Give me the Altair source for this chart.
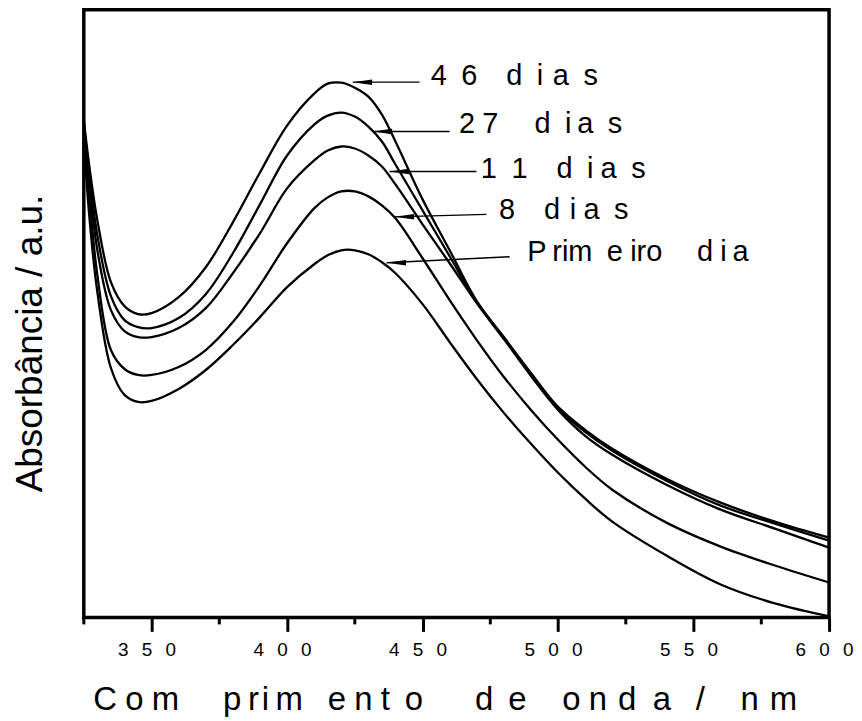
import altair as alt
import pandas as pd

# ---- data (wavelength in nm, absorbance in a.u.) ----
wavelength = [325, 327, 330, 335, 340, 345, 350, 360, 370, 380, 390, 400, 410, 415,
              420, 425, 430, 435, 440, 450, 460, 470, 480, 490, 500, 510, 520, 540,
              560, 580, 600]

abs_46 = [0.996, 0.906, 0.796, 0.672, 0.624, 0.608, 0.610, 0.642, 0.702, 0.792, 0.892,
          0.986, 1.050, 1.070, 1.072, 1.062, 1.044, 1.008, 0.954, 0.838, 0.736, 0.634,
          0.562, 0.490, 0.422, 0.376, 0.338, 0.278, 0.230, 0.192, 0.160]
abs_27 = [0.992, 0.892, 0.766, 0.644, 0.596, 0.582, 0.580, 0.600, 0.648, 0.730, 0.828,
          0.926, 0.988, 1.006, 1.012, 1.004, 0.984, 0.954, 0.908, 0.816, 0.724, 0.632,
          0.560, 0.488, 0.420, 0.372, 0.334, 0.274, 0.224, 0.188, 0.154]
abs_11 = [0.986, 0.876, 0.736, 0.616, 0.574, 0.562, 0.562, 0.580, 0.620, 0.690, 0.770,
          0.860, 0.916, 0.936, 0.944, 0.940, 0.926, 0.904, 0.868, 0.788, 0.710, 0.630,
          0.558, 0.484, 0.416, 0.364, 0.326, 0.266, 0.216, 0.178, 0.140]
abs_8 = [0.976, 0.846, 0.686, 0.536, 0.498, 0.486, 0.486, 0.502, 0.536, 0.592, 0.666,
         0.750, 0.820, 0.842, 0.854, 0.854, 0.844, 0.826, 0.800, 0.720, 0.636, 0.556,
         0.482, 0.416, 0.356, 0.302, 0.256, 0.190, 0.142, 0.104, 0.070]
abs_1 = [0.960, 0.806, 0.652, 0.500, 0.446, 0.432, 0.434, 0.458, 0.496, 0.546, 0.602,
         0.662, 0.708, 0.726, 0.736, 0.736, 0.728, 0.712, 0.690, 0.628, 0.552, 0.478,
         0.410, 0.348, 0.290, 0.238, 0.192, 0.124, 0.066, 0.028, 0.002]

series_names = ["46 dias", "27 dias", "11 dias", "8 dias", "Primeiro dia"]
series_values = [abs_46, abs_27, abs_11, abs_8, abs_1]

# spacing characters used to reproduce the letter-spaced typesetting
S = "\u2005"   # quarter-em space
E = "\u2002"   # en space
T = "\u2009"   # thin space
H = "\u200a"   # hair space

label_text = [
    "4" + E + "6" + E + E + "d" + E + "i" + S + H + "a" + E + "s",
    "2" + S + "7" + E + E + S + "d" + E + "i" + T + "a" + E + "s",
    "1" + E + "1" + E + E + "d" + E + "i" + S + "a" + E + "s",
    "8" + E + E + "d" + S + H + "i" + S + "a" + E + "s",
    "P" + T + "rim" + E + "e" + S + "iro" + E + E + T + "d" + S + "i" + T + "a",
]
label_x = [453.0, 463.4, 471.5, 478.2, 488.6]
label_y = [1.086, 0.990, 0.898, 0.816, 0.732]
arrow_tip_x = [424.2, 431.6, 437.8, 439.7, 436.7]
arrow_tip_y = [1.073, 0.974, 0.894, 0.803, 0.711]
arrow_end_x = [448.9, 460.0, 469.9, 473.6, 482.1]
arrow_end_y = [1.073, 0.974, 0.894, 0.808, 0.723]

major_ticks = [350, 400, 450, 500, 550, 600]
minor_ticks = [325, 375, 425, 475, 525, 575]

x_title = ("C" + S + "o" + S + "m" + E + E + S + H + "p" + T + "r" + H + "i" + T + "m"
           + S + S + S + "e" + S + "n" + S + "t" + S + T + "o" + E + E + E + H
           + "d" + S + T + "e" + E + E + H + "o" + S + "n" + S + H + "d" + E + "a"
           + E + S + "/" + E + E + H + "n" + S + H + "m")
y_title = "Absorbância / a.u."

# ---- tables ----
rows = []
for name, vals in zip(series_names, series_values):
    for w, a in zip(wavelength, vals):
        rows.append({"serie": name, "wl": w, "abs": a})
df = pd.DataFrame(rows)

labels_df = pd.DataFrame({"wl": label_x, "abs": label_y, "txt": label_text})
arrows_df = pd.DataFrame({"wl": arrow_tip_x, "abs": arrow_tip_y,
                          "wl2": arrow_end_x, "abs2": arrow_end_y})
minor_df = pd.DataFrame({"wl": minor_ticks})

FONT = "Liberation Sans"
x_scale = alt.Scale(domain=[325, 600], nice=False, zero=False)
y_scale = alt.Scale(domain=[0, 1.218], nice=False, zero=False)

sp = E + T
label_expr = ("slice(datum.label,0,1)+'" + sp + "'+slice(datum.label,1,2)+'" + sp +
              "'+slice(datum.label,2,3)")

x_axis = alt.Axis(values=major_ticks, grid=False, domain=False,
                  tickSize=14, tickWidth=3, tickColor="black",
                  labelFont=FONT, labelFontSize=19, labelColor="black",
                  labelPadding=9, labelOffset=-5, labelExpr=label_expr,
                  labelFlush=False,
                  title=x_title, titleFont=FONT, titleFontSize=33,
                  titleFontWeight="normal", titleColor="black",
                  titleX=9, titleY=92, titleAlign="left",
                  titleBaseline="alphabetic")
y_axis = alt.Axis(labels=False, ticks=False, domain=False, grid=False,
                  title=y_title, titleFont=FONT, titleFontSize=37,
                  titleFontWeight="normal", titleColor="black",
                  titleX=-53, titleY=334, titleAngle=270,
                  titleAlign="center", titleBaseline="middle")

X = alt.X("wl:Q", scale=x_scale, axis=x_axis)
Y = alt.Y("abs:Q", scale=y_scale, axis=y_axis)

lines = alt.Chart(df).mark_line(color="black", strokeWidth=2.3,
                                interpolate="catmull-rom").encode(
    x=X, y=Y, detail="serie:N",
)

minor = alt.Chart(minor_df).mark_rule(color="black", strokeWidth=3).encode(
    x=X,
    y=alt.value(609),
    y2=alt.value(616),
)

arrow_lines = alt.Chart(arrows_df).mark_rule(color="black", strokeWidth=1.4).encode(
    x=X, y=Y, x2="wl2:Q", y2="abs2:Q",
)

arrow_heads = alt.Chart(arrows_df).mark_point(
    shape="M0,0L2,-0.28L2,0.28Z", filled=True, color="black", size=380, opacity=1,
    strokeWidth=0,
).encode(x=X, y=Y)

texts = alt.Chart(labels_df).mark_text(
    align="left", baseline="middle", font=FONT, fontSize=29, color="black",
).encode(x=X, y=Y, text="txt:N")

chart = alt.layer(lines, minor, arrow_lines, arrow_heads, texts).properties(
    width=747, height=609,
    padding={"left": 76, "top": 1, "right": 25, "bottom": 100},
    autosize=alt.AutoSizeParams(type="none"),
    background="white",
).configure_view(stroke="black", strokeWidth=3.5)

chart.save("out.html", embed_options={"renderer": "svg", "actions": False})
